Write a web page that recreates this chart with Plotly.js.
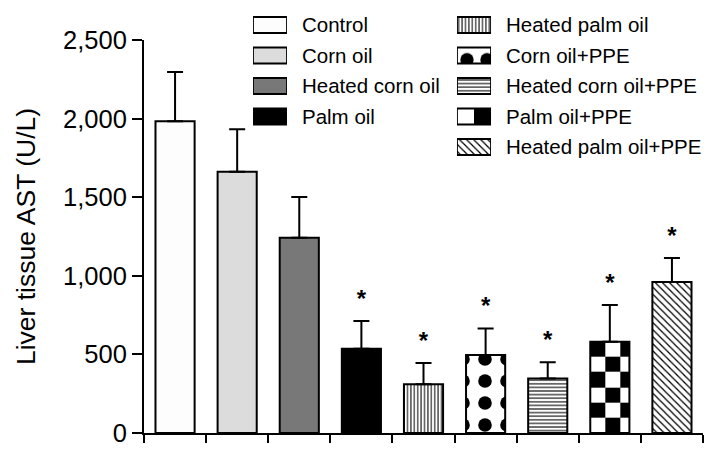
<!DOCTYPE html>
<html>
<head>
<meta charset="utf-8">
<script src="https://cdn.plot.ly/plotly-3.0.1.min.js"></script>
<style>html,body{margin:0;padding:0;background:#fff;}#chart{width:719px;height:458px;}</style>
</head>
<body>
<div id="chart"></div>
<script>
// ---- data ----
const categories = ['Control', 'Corn oil', 'Heated corn oil', 'Palm oil', 'Heated palm oil',
  'Corn oil+PPE', 'Heated corn oil+PPE', 'Palm oil+PPE', 'Heated palm oil+PPE'];
const astMean = [1983, 1662, 1242, 536, 310, 496, 346, 581, 961];
const astSEM  = [313, 270, 259, 176, 135, 168, 104, 233, 152];
const significant = [false, false, false, true, true, true, true, true, true];
const yTickVals = [0, 500, 1000, 1500, 2000, 2500];
const legendCol1 = categories.slice(0, 4);
const legendCol2 = categories.slice(4);

// ---- styles ----
const FONT = 'Arial, "Liberation Sans", Helvetica, sans-serif';
const style = {
  'Control':             {color: '#fdfdfd'},
  'Corn oil':            {color: '#dcdcdc'},
  'Heated corn oil':     {color: '#787878'},
  'Palm oil':            {color: '#000000'},
  'Heated palm oil':     {color: '#ffffff', pattern: {shape: '|', size: 3.4, solidity: 0.3}},
  'Corn oil+PPE':        {color: '#ffffff', pattern: {shape: '.', size: 22, solidity: 0.3}},
  'Heated corn oil+PPE': {color: '#ffffff', pattern: {shape: '-', size: 3.6, solidity: 0.3}},
  'Palm oil+PPE':        {color: 'rgba(0,0,0,0)'},
  'Heated palm oil+PPE': {color: '#ffffff', pattern: {shape: '\\', size: 5, solidity: 0.25}}
};
const legendStyle = Object.assign({}, style, {
  'Corn oil+PPE': {color: '#ffffff', pattern: {shape: '.', size: 20, solidity: 0.35}},
  'Palm oil+PPE': {color: '#ffffff'}
});
const BAR_W = 0.63;

function markerFor(name, st, lw) {
  const s = st[name];
  const m = {color: s.color, line: {color: '#000', width: lw}};
  if (s.pattern) {
    m.pattern = {shape: s.pattern.shape, size: s.pattern.size, solidity: s.pattern.solidity,
      fgcolor: '#000000', bgcolor: '#ffffff', fillmode: 'replace'};
  }
  return m;
}

// checkerboard fill for the "Palm oil+PPE" bar, built from its value
const ci = categories.indexOf('Palm oil+PPE');
const checkRows = 6, cellW = 0.241;
const left = ci - BAR_W / 2, right = ci + BAR_W / 2;
const chkX = [left, left + cellW, left + 2 * cellW, right];
const chkY = Array.from({length: checkRows + 1}, (_, k) => astMean[ci] * k / checkRows);
const chkZ = Array.from({length: checkRows}, (_, k) => [0, 1, 2].map(j => (k + j) % 2));

const traces = [{
  type: 'heatmap', x: chkX, y: chkY, z: chkZ, zmin: 0, zmax: 1,
  colorscale: [[0, '#ffffff'], [1, '#000000']], showscale: false, hoverinfo: 'skip'
}];

categories.forEach((name, i) => {
  traces.push({
    type: 'bar', name: name, x: [i], y: [astMean[i]], width: BAR_W,
    marker: markerFor(name, style, 2),
    error_y: {type: 'data', symmetric: false, array: [astSEM[i]], arrayminus: [0],
      color: '#000', thickness: 2, width: 8},
    hoverinfo: 'skip', showlegend: false
  });
});

const sigX = [], sigY = [];
categories.forEach((_, i) => { if (significant[i]) { sigX.push(i); sigY.push(astMean[i] + astSEM[i]); } });
traces.push({
  type: 'scatter', mode: 'markers+text', x: sigX, y: sigY, text: sigX.map(() => '*'),
  marker: {size: 12, color: 'rgba(0,0,0,0)'},
  textposition: 'top center', textfont: {family: FONT, size: 24, color: '#000', weight: 'bold'},
  cliponaxis: false, hoverinfo: 'skip', showlegend: false
});

// legend swatches (two columns)
[[legendCol1, 'x2', 'y2'], [legendCol2, 'x3', 'y3']].forEach(([names, xa, ya]) => {
  names.forEach(name => {
    traces.push({
      type: 'bar', orientation: 'h', xaxis: xa, yaxis: ya, name: name,
      x: [1], y: [name], width: 0.525,
      marker: markerFor(name, legendStyle, 1.8), hoverinfo: 'skip', showlegend: false
    });
  });
});
traces.push({
  type: 'bar', orientation: 'h', xaxis: 'x3', yaxis: 'y3',
  x: [0.5], base: [0.5], y: ['Palm oil+PPE'], width: 0.525,
  marker: {color: '#000', line: {width: 0}}, hoverinfo: 'skip', showlegend: false
});

const legendY = (anchor) => ({
  domain: [0.6386, 0.9982], type: 'category', categoryorder: 'array',
  range: [4.5, -0.5], anchor: anchor, side: 'right',
  showline: false, showgrid: false, zeroline: false, ticks: '', ticklabelstandoff: 14,
  tickfont: {family: FONT, size: 20.5, color: '#000'}, fixedrange: true
});

const layout = {
  width: 719, height: 458,
  margin: {l: 144, r: 16, t: 9, b: 25, pad: 0},
  paper_bgcolor: '#fff', plot_bgcolor: 'rgba(0,0,0,0)',
  font: {family: FONT, color: '#000'},
  showlegend: false, hovermode: false, barmode: 'overlay',
  xaxis: {
    range: [-0.5, 8.5], tickmode: 'array',
    tickvals: categories.map((_, i) => i - 0.5).concat([categories.length - 0.5]),
    showticklabels: false, ticks: 'outside', ticklen: 8, tickwidth: 2, tickcolor: '#000',
    showline: true, linewidth: 2, linecolor: '#000', showgrid: false, zeroline: false,
    anchor: 'y', fixedrange: true
  },
  yaxis: {
    domain: [0, 393 / 424], range: [0, 2500], tickmode: 'array', tickvals: yTickVals,
    tickformat: ',d', ticks: 'outside', ticklen: 10, tickwidth: 2, tickcolor: '#000',
    tickfont: {family: FONT, size: 25.5, color: '#000'},
    title: {text: 'Liver tissue AST (U/L)', font: {family: FONT, size: 26.5, color: '#000'}, standoff: 20},
    showline: true, linewidth: 2, linecolor: '#000', showgrid: false, zeroline: false,
    anchor: 'x', fixedrange: true
  },
  xaxis2: {domain: [0.1950, 0.2558], range: [0, 1], visible: false, anchor: 'y2', fixedrange: true},
  yaxis2: Object.assign(legendY('x2'), {categoryarray: legendCol1}),
  xaxis3: {domain: [0.5599, 0.6208], range: [0, 1], visible: false, anchor: 'y3', fixedrange: true},
  yaxis3: Object.assign(legendY('x3'), {categoryarray: legendCol2})
};

Plotly.newPlot('chart', traces, layout, {staticPlot: true, displayModeBar: false});
</script>
</body>
</html>
